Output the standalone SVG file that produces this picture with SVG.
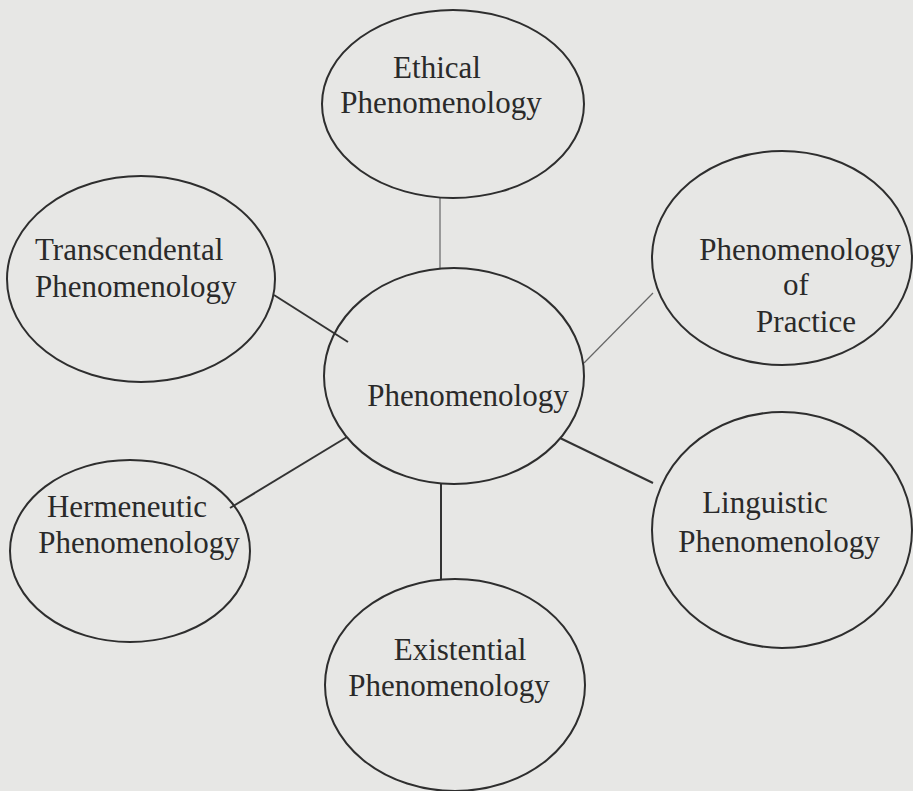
<svg xmlns="http://www.w3.org/2000/svg" width="913" height="791" viewBox="0 0 913 791">
<style>
.node ellipse{fill:none;stroke:#2e2e2e;stroke-width:2}
.node text{font-family:"Liberation Serif","Times New Roman",serif;font-size:31px;fill:#2a2a2a}
.c{text-anchor:middle}
.conn line{stroke:#333;stroke-width:2}
.conn line.thin{stroke:#666;stroke-width:1.2}
</style>
<rect width="913" height="791" fill="#e7e7e5"/>
<g id="connectors" class="conn">
<line class="thin" x1="440" y1="198" x2="440" y2="268"/>
<line x1="274" y1="295" x2="348" y2="342"/>
<line class="thin" x1="584" y1="363" x2="653" y2="293"/>
<line x1="230" y1="508" x2="347" y2="437"/>
<line x1="560" y1="438" x2="653" y2="483"/>
<line x1="441" y1="484" x2="441" y2="579"/>
</g>
<g id="ethical" class="node">
<ellipse cx="453" cy="104" rx="131" ry="94"/>
<text x="437" y="78" class="c">Ethical</text>
<text x="441" y="113" class="c">Phenomenology</text>
</g>
<g id="transcendental" class="node">
<ellipse cx="141" cy="279" rx="134" ry="103"/>
<text x="35" y="260">Transcendental</text>
<text x="35" y="297">Phenomenology</text>
</g>
<g id="phenomenology" class="node">
<ellipse cx="454" cy="376" rx="130" ry="108"/>
<text x="468" y="406" class="c">Phenomenology</text>
</g>
<g id="practice" class="node">
<ellipse cx="782" cy="258" rx="130" ry="107"/>
<text x="800" y="260" class="c">Phenomenology</text>
<text x="796" y="295" class="c">of</text>
<text x="806" y="332" class="c">Practice</text>
</g>
<g id="hermeneutic" class="node">
<ellipse cx="130" cy="551" rx="120" ry="91"/>
<text x="127" y="517" class="c">Hermeneutic</text>
<text x="139" y="553" class="c">Phenomenology</text>
</g>
<g id="linguistic" class="node">
<ellipse cx="782" cy="530" rx="130" ry="118"/>
<text x="765" y="513" class="c">Linguistic</text>
<text x="779" y="552" class="c">Phenomenology</text>
</g>
<g id="existential" class="node">
<ellipse cx="455" cy="685" rx="130" ry="106"/>
<text x="460" y="660" class="c">Existential</text>
<text x="449" y="696" class="c">Phenomenology</text>
</g>
</svg>
